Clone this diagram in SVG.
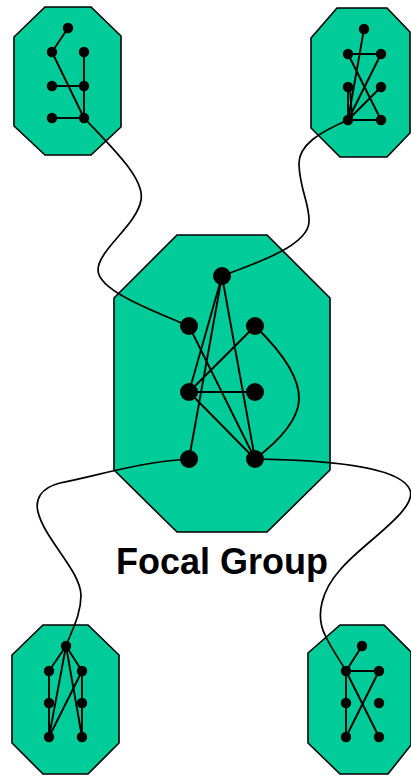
<svg xmlns="http://www.w3.org/2000/svg" width="411" height="777" viewBox="0 0 411 777">
<style>
.oct{fill:#00CC99;stroke:#000;stroke-width:1.6}
.e{stroke:#000;stroke-width:1.9;fill:none}
.c{stroke:#000;stroke-width:1.7;fill:none}
.n{fill:#000}
.t{font-family:"Liberation Sans",Arial,sans-serif;font-weight:bold;font-size:36px;fill:#000}
</style>
<rect width="411" height="777" fill="#fff"/>
<g id="group-top-left">
<polygon class="oct" points="45,7 91,7 121,36 121,127 91,155 45,155 14,126 14,37"/>
<g class="e">
<line x1="68" y1="28" x2="52" y2="52"/>
<line x1="52" y1="52" x2="84" y2="118"/>
<line x1="84" y1="52" x2="84" y2="118"/>
<line x1="52" y1="86" x2="84" y2="86"/>
<line x1="52" y1="118" x2="84" y2="118"/>
</g>
<g class="n">
<circle cx="68" cy="28" r="5.2"/><circle cx="52" cy="52" r="5.2"/><circle cx="84" cy="52" r="5.2"/>
<circle cx="52" cy="86" r="5.2"/><circle cx="84" cy="86" r="5.2"/>
<circle cx="52" cy="118" r="5.2"/><circle cx="84" cy="118" r="5.2"/>
</g>
</g>
<g id="group-top-right">
<polygon class="oct" points="337,8 387,8 410,32 410,133 387,157 340,157 311,128 311,38"/>
<g class="e">
<line x1="364" y1="29" x2="348" y2="120"/>
<line x1="348" y1="54" x2="381" y2="54"/>
<line x1="348" y1="54" x2="381" y2="120"/>
<line x1="381" y1="54" x2="348" y2="120"/>
<line x1="348" y1="87" x2="348" y2="120"/>
<line x1="350" y1="87" x2="352" y2="118"/>
<line x1="381" y1="87" x2="348" y2="120"/>
<line x1="348" y1="120" x2="381" y2="120"/>
</g>
<g class="n">
<circle cx="364" cy="29" r="5.2"/><circle cx="348" cy="54" r="5.2"/><circle cx="381" cy="54" r="5.2"/>
<circle cx="348" cy="87" r="5.2"/><circle cx="381" cy="87" r="5.2"/>
<circle cx="348" cy="120" r="5.2"/><circle cx="381" cy="120" r="5.2"/>
</g>
</g>
<g id="group-focal">
<polygon class="oct" points="177,235 267,235 330,298 330,470 267,532 177,532 114,470 114,298"/>
<g class="e">
<line x1="222" y1="276" x2="189" y2="392"/>
<line x1="222" y1="276" x2="189" y2="459"/>
<line x1="222" y1="276" x2="255" y2="459"/>
<line x1="189" y1="326" x2="255" y2="459"/>
<line x1="255" y1="326" x2="189" y2="392"/>
<line x1="189" y1="392" x2="255" y2="392"/>
<line x1="189" y1="392" x2="255" y2="459"/>
<path d="M255,326 C285,355 300,380 299,400 C298,420 280,440 255,459"/>
</g>
<g class="n">
<circle cx="222" cy="276" r="9"/><circle cx="189" cy="326" r="9"/><circle cx="255" cy="326" r="9"/>
<circle cx="189" cy="392" r="9"/><circle cx="255" cy="392" r="9"/>
<circle cx="189" cy="459" r="9"/><circle cx="255" cy="459" r="9"/>
</g>
<text class="t" x="116" y="574">Focal Group</text>
</g>
<g id="group-bottom-left">
<polygon class="oct" points="43,625 88,625 119,655 119,743 88,774 43,774 12,743 12,655"/>
<g class="e">
<line x1="66" y1="646" x2="49" y2="671"/>
<line x1="66" y1="646" x2="82" y2="671"/>
<line x1="66" y1="646" x2="49" y2="737"/>
<line x1="66" y1="646" x2="82" y2="737"/>
<line x1="49" y1="671" x2="49" y2="737"/>
<line x1="82" y1="671" x2="49" y2="737"/>
<line x1="82" y1="671" x2="82" y2="737"/>
</g>
<g class="n">
<circle cx="66" cy="646" r="5.2"/><circle cx="49" cy="671" r="5.2"/><circle cx="82" cy="671" r="5.2"/>
<circle cx="49" cy="703" r="5.2"/><circle cx="82" cy="703" r="5.2"/>
<circle cx="49" cy="737" r="5.2"/><circle cx="82" cy="737" r="5.2"/>
</g>
</g>
<g id="group-bottom-right">
<polygon class="oct" points="340,625 384,625 411,652 411,745 388,774 340,774 308,743 308,653"/>
<g class="e">
<line x1="362" y1="646" x2="346" y2="671"/>
<line x1="346" y1="671" x2="379" y2="671"/>
<line x1="346" y1="671" x2="346" y2="737"/>
<line x1="346" y1="671" x2="379" y2="737"/>
<line x1="379" y1="671" x2="346" y2="737"/>
</g>
<g class="n">
<circle cx="362" cy="646" r="5.2"/><circle cx="346" cy="671" r="5.2"/><circle cx="379" cy="671" r="5.2"/>
<circle cx="346" cy="703" r="5.2"/><circle cx="379" cy="703" r="5.2"/>
<circle cx="346" cy="737" r="5.2"/><circle cx="379" cy="737" r="5.2"/>
</g>
</g>
<g id="connectors" class="c">
<path d="M84,118 C115,150 145,180 141,200 C137,225 98,250 98,270 C98,290 150,310 189,326"/>
<path d="M348,120 C320,132 298,145 299,165 C300,190 310,205 309,222 C308,245 260,262 222,276"/>
<path d="M189,459 C140,462 100,475 60,483 C40,488 35,500 38,512 C45,540 80,570 81,595 C81,615 72,630 66,646"/>
<path d="M255,459 C320,460 400,465 410,490 C418,510 360,545 340,570 C322,590 315,615 325,635 C332,650 340,660 346,671"/>
</g>
</svg>
